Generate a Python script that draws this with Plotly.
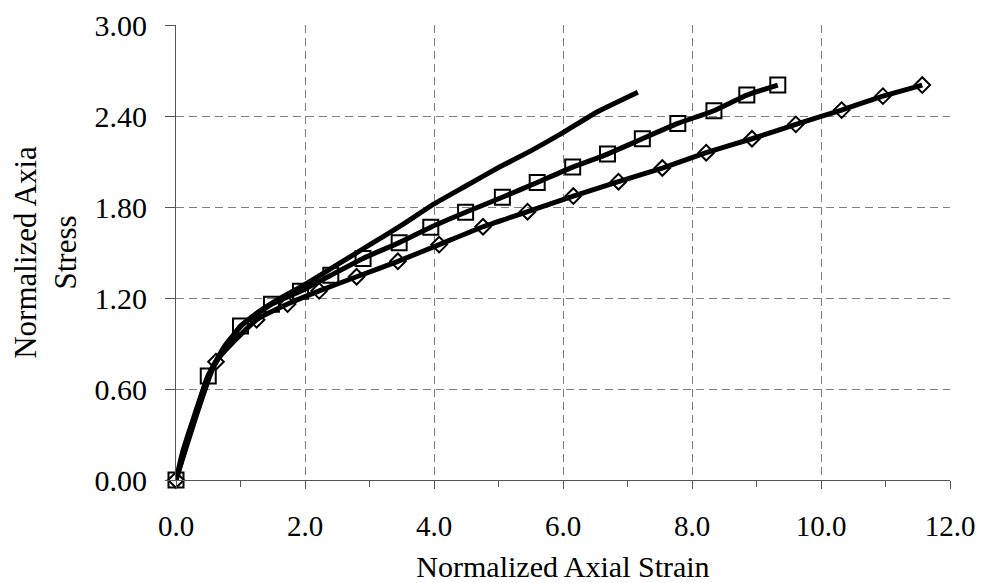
import plotly.graph_objects as go

# plain curve (no markers)
plain_x = [0.0, 0.1, 0.25, 0.5, 0.75, 1.0, 1.25, 1.5, 2.0, 2.5, 3.0, 3.5, 4.0, 4.5, 5.0, 5.5, 6.0, 6.5, 7.16]
plain_y = [0.0, 0.18, 0.38, 0.69, 0.88, 1.01, 1.10, 1.17, 1.29, 1.42, 1.55, 1.68, 1.82, 1.94, 2.06, 2.17, 2.29, 2.42, 2.556]

# square series
sq_x = [0.0, 0.50, 1.00, 1.48, 1.93, 2.40, 2.90, 3.46, 3.95, 4.49, 5.06, 5.60, 6.15, 6.69, 7.23, 7.78, 8.34, 8.85, 9.33]
sq_y = [0.0, 0.686, 1.015, 1.159, 1.245, 1.350, 1.461, 1.565, 1.667, 1.765, 1.864, 1.962, 2.063, 2.149, 2.250, 2.351, 2.435, 2.538, 2.604]

# diamond series
dm_x = [0.0, 0.62, 1.25, 1.73, 2.22, 2.80, 3.44, 4.08, 4.76, 5.45, 6.16, 6.86, 7.54, 8.22, 8.93, 9.61, 10.32, 10.96, 11.57]
dm_y = [0.0, 0.780, 1.057, 1.160, 1.247, 1.340, 1.442, 1.552, 1.670, 1.769, 1.872, 1.967, 2.057, 2.158, 2.250, 2.345, 2.439, 2.531, 2.604]

FONT = "Liberation Serif, Times New Roman, serif"

fig = go.Figure()

fig.add_trace(
    go.Scatter(
        x=plain_x,
        y=plain_y,
        mode="lines",
        line=dict(color="black", width=5, shape="spline", smoothing=0.4),
        showlegend=False,
        cliponaxis=False
    )
)

fig.add_trace(
    go.Scatter(
        x=sq_x,
        y=sq_y,
        mode="lines+markers",
        line=dict(color="black", width=5, shape="spline", smoothing=0.4),
        marker=dict(symbol="square-open", size=15, color="black", line=dict(width=2)),
        showlegend=False,
        cliponaxis=False
    )
)

fig.add_trace(
    go.Scatter(
        x=dm_x,
        y=dm_y,
        mode="lines+markers",
        line=dict(color="black", width=5, shape="spline", smoothing=0.4),
        marker=dict(symbol="diamond-open", size=12, color="black", line=dict(width=2)),
        showlegend=False,
        cliponaxis=False
    )
)

grid = dict(showgrid=True, gridcolor="#7f7f7f", gridwidth=1, griddash="8px,5px")

# page body keeps its default 8px margin, so the figure is 8px smaller
fig.update_layout(
    width=977,
    height=575,
    margin=dict(l=168, r=35, t=17, b=103),
    paper_bgcolor="white",
    plot_bgcolor="white",
    font=dict(family=FONT, color="black"),
    xaxis=dict(
        range=[0, 12],
        dtick=2,
        tickformat=".1f",
        ticks="outside",
        ticklen=8,
        tickcolor="#555555",
        showline=True,
        linecolor="#555555",
        linewidth=1,
        zeroline=False,
        automargin=False,
        tickfont=dict(size=29, family=FONT),
        ticklabelstandoff=12,
        minor=dict(ticks="outside", ticklen=6, dtick=1, tickcolor="#555555", showgrid=False),
        title=dict(text="Normalized Axial Strain", font=dict(size=30, family=FONT), standoff=24),
        **grid
    ),
    yaxis=dict(
        range=[0, 3],
        dtick=0.6,
        tickformat=".2f",
        ticks="outside",
        ticklen=10,
        tickcolor="#555555",
        showline=True,
        linecolor="#555555",
        linewidth=1,
        zeroline=False,
        automargin=False,
        tickfont=dict(size=30, family=FONT),
        ticklabelstandoff=12,
        title=dict(text="Normalized Axia<br>Stress", font=dict(size=31, family=FONT), standoff=12),
        **grid
    )
)

fig.write_html("out.html")
